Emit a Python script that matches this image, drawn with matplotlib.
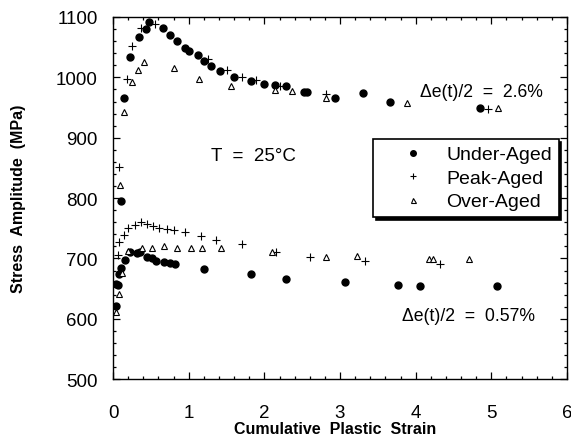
import numpy as np
import matplotlib.pyplot as plt
from matplotlib.ticker import MultipleLocator

plt.rcParams['font.family'] = ['Liberation Sans', 'DejaVu Sans']

# strain amplitude 2.6 %
ua_hi_x = [0.11, 0.15, 0.23, 0.34, 0.43, 0.48, 0.66, 0.75, 0.85, 0.95, 1.01, 1.12, 1.20,
           1.30, 1.41, 1.60, 1.82, 2.00, 2.14, 2.29, 2.52, 2.56, 2.93, 3.30, 3.66, 4.85]
ua_hi_y = [796, 965, 1033, 1067, 1080, 1092, 1082, 1071, 1061, 1049, 1044, 1037, 1027,
           1019, 1010, 1001, 994, 989, 987, 986, 976, 976, 966, 974, 960, 949]
pa_hi_x = [0.08, 0.18, 0.25, 0.37, 0.55, 1.25, 1.50, 1.70, 1.89, 2.20, 2.81, 4.95]
pa_hi_y = [851, 997, 1052, 1082, 1088, 1030, 1012, 1000, 995, 985, 972, 947]
oa_hi_x = [0.09, 0.15, 0.25, 0.33, 0.41, 0.81, 1.13, 1.56, 2.14, 2.36, 2.81, 3.88, 5.09]
oa_hi_y = [822, 943, 992, 1013, 1025, 1015, 998, 986, 979, 977, 965, 957, 950]

# strain amplitude 0.57 %
ua_lo_x = [0.04, 0.04, 0.07, 0.08, 0.10, 0.16, 0.23, 0.31, 0.36, 0.45, 0.51, 0.57, 0.67,
           0.75, 0.82, 1.20, 1.82, 2.29, 3.07, 3.77, 4.06, 5.08]
ua_lo_y = [621, 657, 656, 674, 685, 698, 710, 709, 710, 703, 700, 696, 694,
           692, 690, 683, 675, 666, 661, 656, 655, 655]
pa_lo_x = [0.07, 0.08, 0.15, 0.20, 0.29, 0.37, 0.45, 0.53, 0.61, 0.71, 0.81, 0.95, 1.16,
           1.36, 1.70, 2.15, 2.60, 3.33, 4.32]
pa_lo_y = [705, 727, 739, 750, 755, 760, 757, 754, 750, 749, 747, 743, 737,
           731, 724, 711, 703, 696, 691]
oa_lo_x = [0.04, 0.08, 0.12, 0.20, 0.38, 0.52, 0.67, 0.85, 1.03, 1.17, 1.43, 2.10, 2.81,
           3.22, 4.18, 4.23, 4.70]
oa_lo_y = [611, 641, 676, 713, 717, 717, 720, 717, 717, 718, 717, 711, 703,
           704, 699, 699, 699]

fig = plt.figure(figsize=(5.71, 4.39), dpi=100)
ax = fig.add_axes([0.198, 0.134, 0.795, 0.825])

ua = dict(marker='o', color='black', markersize=5, linestyle='none')
pa = dict(marker='+', color='black', markersize=5.5, markeredgewidth=0.8, linestyle='none')
oa = dict(marker='^', markerfacecolor='white', markeredgecolor='black', markersize=4.5,
          markeredgewidth=0.8, linestyle='none')

ax.plot(ua_hi_x, ua_hi_y, **ua)
ax.plot(pa_hi_x, pa_hi_y, **pa)
ax.plot(oa_hi_x, oa_hi_y, **oa)
ax.plot(ua_lo_x, ua_lo_y, label='Under-Aged', **ua)
ax.plot(pa_lo_x, pa_lo_y, label='Peak-Aged', **pa)
ax.plot(oa_lo_x, oa_lo_y, label='Over-Aged', **oa)

ax.set_xlim(0, 6)
ax.set_ylim(500, 1100)
ax.xaxis.set_major_locator(MultipleLocator(1))
ax.xaxis.set_minor_locator(MultipleLocator(0.2))
ax.yaxis.set_major_locator(MultipleLocator(100))
ax.yaxis.set_minor_locator(MultipleLocator(20))
ax.tick_params(which='both', direction='in', top=True, right=True, width=0.9)
ax.tick_params(which='major', length=5, labelsize=13.5)
ax.tick_params(which='minor', length=2.5)
ax.tick_params(axis='x', which='major', pad=18)
ax.tick_params(axis='y', which='major', pad=11)
for s in ax.spines.values():
    s.set_linewidth(1.0)

ax.set_xlabel('Cumulative  Plastic  Strain', fontsize=11.5, fontweight='bold', va='bottom')
ax.set_ylabel('Stress  Amplitude  (MPa)', fontsize=11.5, fontweight='bold')
ax.xaxis.set_label_coords(0.49, -0.158)
ax.yaxis.set_label_coords(-0.192, 0.5)

ax.text(1.30, 870, 'T  =  25°C', fontsize=13.5, ha='left', va='center')
ax.text(4.06, 976, 'Δe(t)/2  =  2.6%', fontsize=12.7, ha='left', va='center')
ax.text(3.82, 606, 'Δe(t)/2  =  0.57%', fontsize=12.7, ha='left', va='center')

leg = ax.legend(loc='upper left', bbox_to_anchor=(0.573, 0.663), borderaxespad=0,
                fontsize=14, frameon=True, fancybox=False, handlelength=3.4,
                handletextpad=0.0, borderpad=0.35, labelspacing=0.3, markerscale=0.8,
                shadow={'color': 'black', 'alpha': 1})
leg.get_frame().set_edgecolor('black')
leg.get_frame().set_linewidth(1.2)
leg.get_frame().set_alpha(1)

fig.savefig('out.png', dpi=100)
